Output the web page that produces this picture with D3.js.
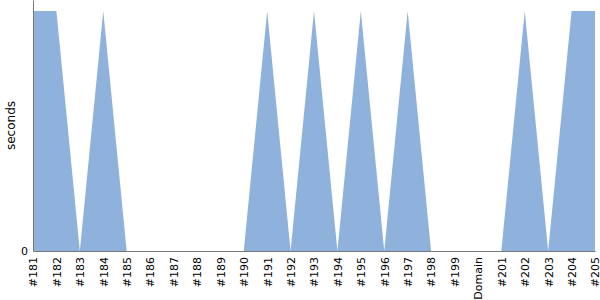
<!DOCTYPE html>
<html>
<head>
<meta charset="utf-8">
<script src="https://cdn.jsdelivr.net/npm/d3@7"></script>
<style>
  body { margin: 0; background: #fff; }
</style>
</head>
<body>
<div id="chart"></div>
<script>
// 分類(build)標籤
var categories = ['#181','#182','#183','#184','#185','#186','#187','#188','#189','#190',
                  '#191','#192','#193','#194','#195','#196','#197','#198','#199','Domain',
                  '#201','#202','#203','#204','#205'];
// 每個build的秒數
var seconds = [1,1,0,1,0,0,0,0,0,0,
               1,0,1,0,1,0,1,0,0,0,
               0,1,0,1,1];
var yTicks = [0];

var FONT = 'DejaVu Sans';

var width = 600, height = 300;
var margin = {top: 0, right: 5, bottom: 49, left: 33};
var innerW = width - margin.left - margin.right;
var innerH = height - margin.top - margin.bottom;

var svg = d3.select('#chart').append('svg')
            .attr('width', width)
            .attr('height', height);

var g = svg.append('g').attr('transform', 'translate(' + margin.left + ',' + margin.top + ')');

var x = d3.scalePoint().domain(categories).range([0, innerW]);
var y = d3.scaleLinear().domain([0, 1.046]).range([innerH, 0]);

var area = d3.area()
             .x(function(d, i){ return x(categories[i]); })
             .y0(y(0))
             .y1(function(d){ return y(d); });

g.append('path')
 .datum(seconds)
 .attr('d', area)
 .attr('fill', '#8fb2dc');

// x軸
var xAxis = g.append('g')
             .attr('transform', 'translate(0,' + innerH + ')')
             .attr('font-family', FONT)
             .call(d3.axisBottom(x).tickSize(0).tickPadding(4));
xAxis.attr('font-family', FONT);
xAxis.select('.domain').attr('stroke', '#777');
xAxis.selectAll('text')
     .attr('font-size', 11)
     .attr('fill', '#000')
     .attr('transform', 'rotate(-90)')
     .attr('text-anchor', 'end')
     .attr('x', -6)
     .attr('y', 0)
     .attr('dy', '0.35em');

// y軸
var yAxis = g.append('g')
             .call(d3.axisLeft(y).tickValues(yTicks).tickFormat(d3.format('d')).tickSize(0).tickPadding(5).tickSizeOuter(0));
yAxis.attr('font-family', FONT);
yAxis.select('.domain').attr('stroke', '#777');
yAxis.selectAll('text').attr('font-size', 11).attr('fill', '#000');

svg.append('text')
   .attr('transform', 'translate(15,' + (margin.top + innerH / 2) + ') rotate(-90)')
   .attr('text-anchor', 'middle')
   .attr('font-family', FONT)
   .attr('font-size', 12)
   .attr('fill', '#000')
   .text('seconds');
</script>
</body>
</html>
